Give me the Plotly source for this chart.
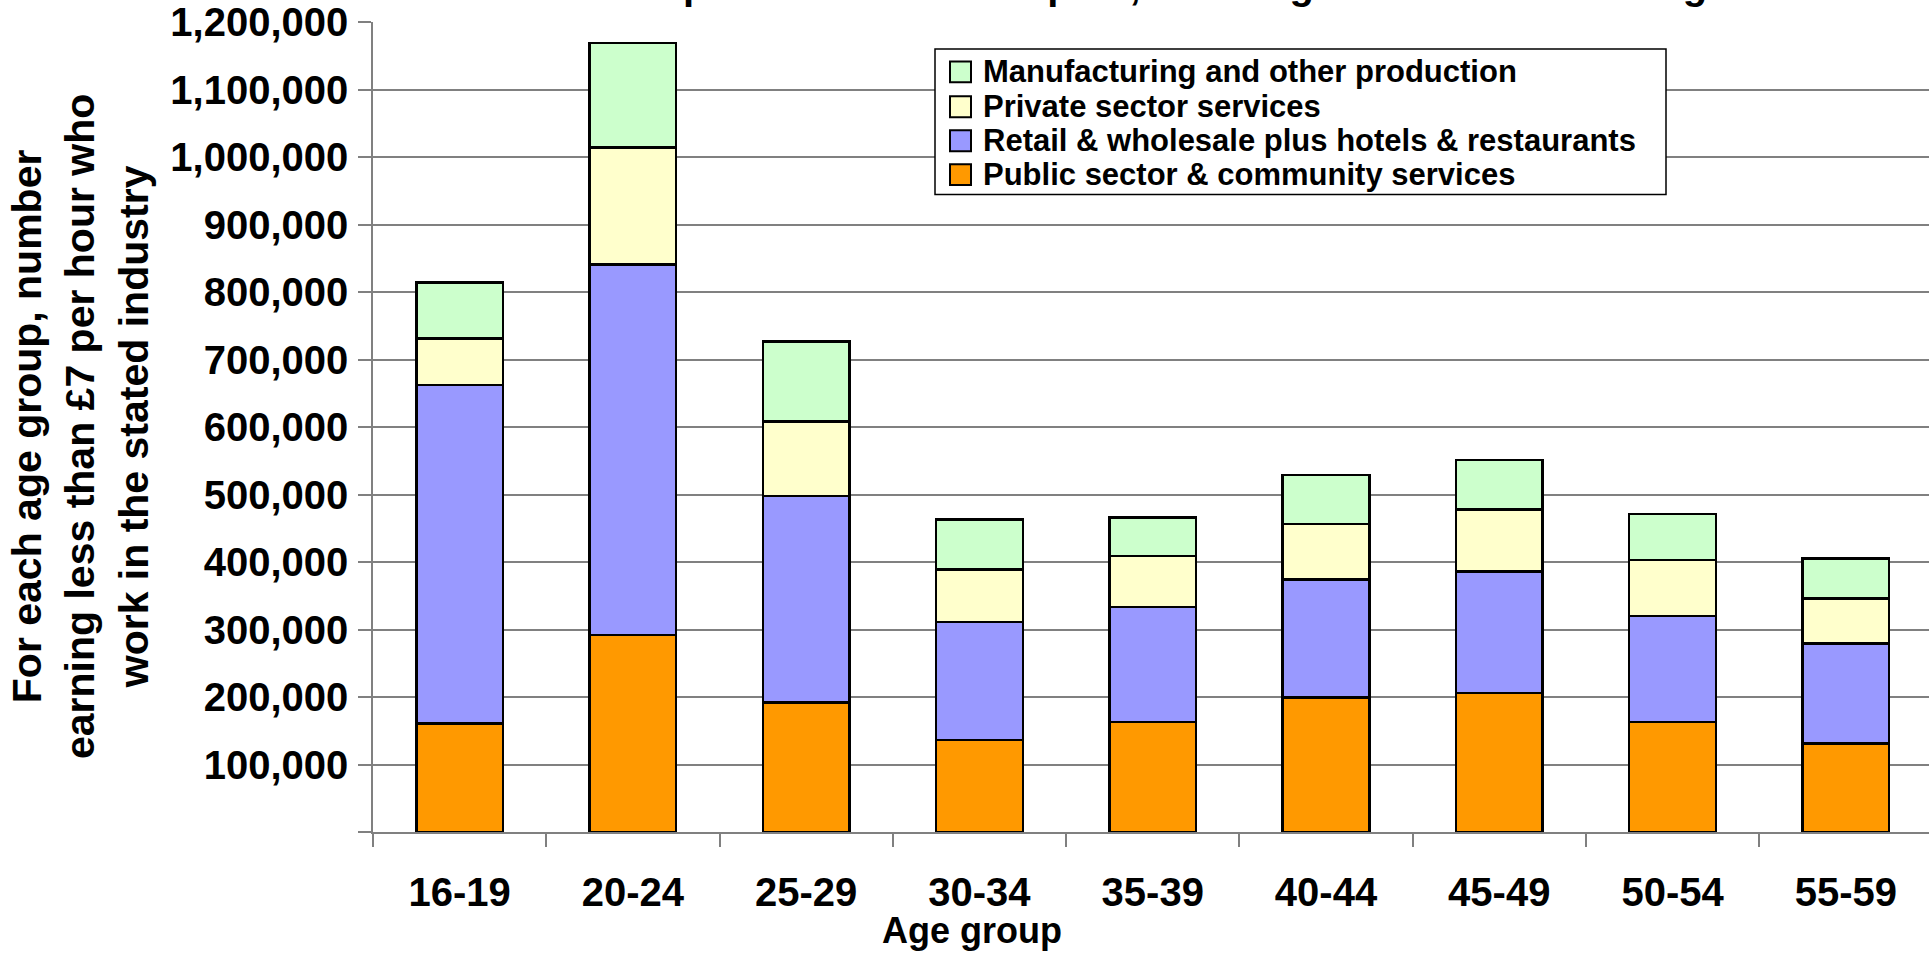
import plotly.graph_objects as go

# ---- data ----
age_groups = ["16-19", "20-24", "25-29", "30-34", "35-39", "40-44", "45-49", "50-54", "55-59"]
public_sector = [161000, 292000, 192000, 136000, 163000, 199000, 206000, 163000, 131000]
retail_hotels = [501000, 549000, 306000, 175000, 170000, 175000, 180000, 157000, 148000]
private_services = [69000, 173000, 110000, 78000, 76000, 82000, 92000, 83000, 67000]
manufacturing = [83000, 155000, 119000, 74000, 57000, 73000, 73000, 68000, 59000]

series_names = [
    "Public sector & community services",
    "Retail & wholesale plus hotels & restaurants",
    "Private sector services",
    "Manufacturing and other production",
]
series_values = [public_sector, retail_hotels, private_services, manufacturing]
series_colors = ["#FF9900", "#9999FF", "#FFFFCC", "#CCFFCC"]

ytick_vals = [0, 100000, 200000, 300000, 400000, 500000, 600000, 700000,
              800000, 900000, 1000000, 1100000, 1200000]
ytick_text = ["", "100,000", "200,000", "300,000", "400,000", "500,000", "600,000",
              "700,000", "800,000", "900,000", "1,000,000", "1,100,000", "1,200,000"]

title_text = "Composition of the low paid, showing how it shifts with age"
x_title = "Age group"
y_title = "For each age group, number<br>earning less than £7 per hour who<br>work in the stated industry"

FONT = "Liberation Sans, Arial, sans-serif"
W, H = 1929, 954
ML, MR, MT, MB = 373, 0, 20, 122
plot_w = W - ML - MR
plot_h = H - MT - MB


def px_x(v):
    return (v - ML) / plot_w


def px_y(v):
    return (H - MB - v) / plot_h


fig = go.Figure()
for name, vals, col in zip(series_names, series_values, series_colors):
    fig.add_trace(go.Bar(
        x=age_groups, y=vals, name=name, showlegend=False,
        marker=dict(color=col, line=dict(color="black", width=2.5)),
    ))

# ---- legend box (drawn as layout shapes/annotations, like the reference) ----
LEG_L, LEG_R, LEG_T, LEG_B = 935, 1666, 47, 193
ROW_Y = [70, 105, 139, 173]
SQ = 21
SQ_L = 950
TXT_X = 981

shapes = [dict(type="rect", xref="paper", yref="paper", layer="above",
               x0=px_x(LEG_L), x1=px_x(LEG_R), y0=px_y(LEG_B), y1=px_y(LEG_T),
               line=dict(color="black", width=1.5), fillcolor="white")]
annotations = []
legend_items = list(zip(series_names, series_colors))[::-1]
for (name, col), ry in zip(legend_items, ROW_Y):
    shapes.append(dict(type="rect", xref="paper", yref="paper", layer="above",
                       x0=px_x(SQ_L), x1=px_x(SQ_L + SQ),
                       y0=px_y(ry + SQ / 2), y1=px_y(ry - SQ / 2),
                       line=dict(color="black", width=2), fillcolor=col))
    annotations.append(dict(text=name, xref="paper", yref="paper",
                            x=px_x(TXT_X), y=px_y(ry), xanchor="left", yanchor="middle",
                            showarrow=False,
                            font=dict(family=FONT, size=31, color="black", weight="bold")))

annotations += [
    dict(text=x_title, xref="paper", yref="paper",
         x=px_x(972), y=px_y(931),
         xanchor="center", yanchor="middle", showarrow=False,
         font=dict(family=FONT, size=36, color="black", weight="bold")),
    dict(text=y_title, xref="paper", yref="paper",
         x=px_x(80), y=0.5, textangle=-90,
         xanchor="center", yanchor="middle", showarrow=False,
         font=dict(family=FONT, size=41, color="black", weight="bold")),
]

fig.update_layout(
    width=W, height=H,
    margin=dict(l=ML, r=MR, t=MT, b=MB, pad=0),
    paper_bgcolor="white", plot_bgcolor="white",
    barmode="stack", bargap=0.5,
    showlegend=False,
    font=dict(family=FONT, color="black"),
    title=dict(
        text=title_text,
        font=dict(family=FONT, size=40, color="black", weight="bold"),
        xref="container", x=594 / W, xanchor="left",
        yref="container", y=1, yanchor="bottom",
        pad=dict(b=1),
    ),
    xaxis=dict(
        type="category", range=[-0.5, 8.48],
        showline=True, linecolor="#808080", linewidth=1.5,
        ticks="outside", tickson="boundaries", ticklen=13,
        tickcolor="#808080", tickwidth=1.5,
        tickfont=dict(family=FONT, size=40, color="black", weight="bold"),
        ticklabelstandoff=24,
        showgrid=False, zeroline=False,
    ),
    yaxis=dict(
        range=[0, 1200000],
        tickmode="array", tickvals=ytick_vals, ticktext=ytick_text,
        showgrid=True, gridcolor="#808080", gridwidth=1.5,
        showline=True, linecolor="#808080", linewidth=1.5,
        ticks="outside", ticklen=13, tickcolor="#808080", tickwidth=1.5,
        tickfont=dict(family=FONT, size=40, color="black", weight="bold"),
        ticklabelstandoff=2, ticklabeloverflow="allow",
        zeroline=False,
    ),
    shapes=shapes,
    annotations=annotations,
)

fig.write_html(
    "out.html",
    config={"displayModeBar": False},
    post_script="document.body.style.margin='0';document.body.style.overflow='hidden';",
)
